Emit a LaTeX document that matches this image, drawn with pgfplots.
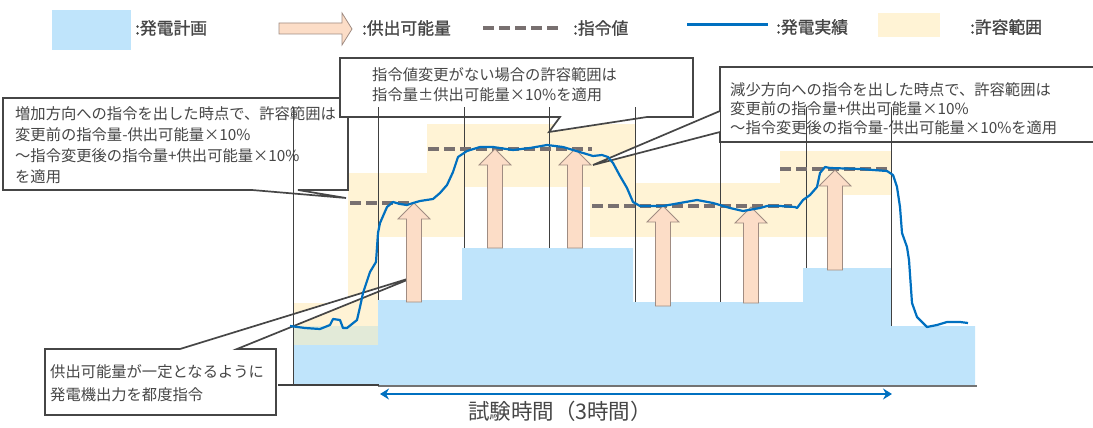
\documentclass[border=0pt]{standalone}
\usepackage{fontspec}
\setmainfont{Noto Sans CJK JP}
\newfontfamily\lgfont[FakeBold=1.2]{Noto Sans CJK JP}
\usepackage{pgfplots}
\pgfplotsset{compat=1.18}
\usetikzlibrary{arrows.meta}
\definecolor{plan}{RGB}{191,228,251}
\definecolor{band}{RGB}{255,243,213}
\definecolor{bandgreen}{RGB}{226,234,216}
\definecolor{peach}{RGB}{252,221,199}
\definecolor{peachedge}{RGB}{160,140,130}
\definecolor{cmd}{RGB}{120,112,112}
\definecolor{act}{RGB}{0,112,192}
\definecolor{txt}{RGB}{70,70,70}
\definecolor{boxedge}{RGB}{70,70,70}
\begin{document}
\begin{tikzpicture}[
  t/.style={anchor=west, inner sep=0pt, text=txt, font=\fontsize{15.3}{18}\selectfont},
  lg/.style={anchor=west, inner sep=0pt, text=txt, font=\lgfont\fontsize{16.8}{20}\selectfont},
  callout/.style={fill=white, draw=boxedge, line width=1.7pt, line join=miter},
  arr/.style={fill=peach, draw=peachedge, line width=0.8pt},
  bnd/.style={fill=band, draw=none},
  cmdl/.style={cmd, line width=3.5pt, dash pattern=on 11pt off 5pt},
  vl/.style={black!75, line width=0.5pt}
]
\begin{axis}[
  scale only axis, width=1093pt, height=428pt,
  xmin=0, xmax=1093, ymin=0, ymax=428, y dir=reverse,
  axis lines=none, clip=false
]
% ---- legend ----
\addplot[fill=plan, draw=none] coordinates {(52,10)(131,10)(131,50)(52,50)};
\addplot[arr] coordinates {(279,23)(342,23)(342,13)(352,29)(342,45)(342,34)(279,34)} -- cycle;
\addplot[cmdl] coordinates {(483,28)(562,28)};
\addplot[act, line width=3pt] coordinates {(687,25)(768,25)};
\addplot[fill=band, draw=none] coordinates {(878,13)(940,13)(940,37)(878,37)};
\node[lg] at (axis cs:135,28) {:発電計画};
\node[lg] at (axis cs:362,28) {:供出可能量};
\node[lg] at (axis cs:573,28) {:指令値};
\node[lg] at (axis cs:776,27) {:発電実績};
\node[lg] at (axis cs:970,27) {:許容範囲};

% ---- tolerance bands ----
\addplot[bnd] coordinates {(293,303)(378,303)(378,345)(293,345)};
\addplot[bnd] coordinates {(348,173)(378,173)(378,345)(348,345)};
\addplot[bnd] coordinates {(348,173)(465,173)(465,237)(348,237)};
\addplot[bnd] coordinates {(427,124)(590,124)(590,187)(427,187)};
\addplot[bnd] coordinates {(590,124)(635,124)(635,237)(590,237)};
\addplot[bnd] coordinates {(590,183)(780,183)(780,237)(590,237)};
\addplot[bnd] coordinates {(780,151)(832,151)(832,237)(780,237)};
\addplot[bnd] coordinates {(780,151)(892,151)(892,195)(780,195)};

% ---- generation plan ----
\addplot[fill=plan, draw=none] coordinates {
  (293,385)(293,345)(378,345)(378,300)(462,300)(462,248)(633,248)(633,302)
  (803,302)(803,268)(891,268)(891,326)(975,326)(975,385)};
\addplot[fill=bandgreen, draw=none] coordinates {(293,326)(378,326)(378,345)(293,345)};

% ---- base line ----
\addplot[black!55, line width=1.2pt] coordinates {(378,386)(977,386)};
\addplot[black!75, line width=2pt] coordinates {(278,385)(379,385)};

% ---- callouts ----
\addplot[callout] coordinates {(3,98)(348,98)(348,190)(298,190)(346,198)(252,190)(3,190)} -- cycle;
\addplot[callout] coordinates {(340,58)(693,58)(693,117)(647,117)(549,132)(560,117)(340,117)} -- cycle;
\addplot[callout] coordinates {(720,67)(1100,67)(1100,142)(720,142)(720,132)(593,165)(720,111)} -- cycle;
\addplot[callout] coordinates {(45,349)(180,349)(417,276)(237,349)(276,349)(276,415)(45,415)} -- cycle;

% ---- vertical time lines ----
\addplot[vl] coordinates {(293,107)(293,385)};
\addplot[vl] coordinates {(378,107)(378,300)};
\addplot[vl] coordinates {(464,107)(464,248)};
\addplot[vl] coordinates {(549,107)(549,248)};
\addplot[vl] coordinates {(635,107)(635,302)};
\addplot[vl] coordinates {(720,107)(720,302)};
\addplot[vl] coordinates {(806,107)(806,268)};
\addplot[vl] coordinates {(891,107)(891,326)};

% ---- command values ----
\addplot[cmdl] coordinates {(350,203)(412,203)};
\addplot[cmdl] coordinates {(428,149)(592,149)};
\addplot[cmdl] coordinates {(592,206)(792,206)};
\addplot[cmdl] coordinates {(780,169)(890,169)};

% ---- supply capacity arrows ----
\addplot[arr] coordinates {(406.5,302)(421.5,302)(421.5,219)(430,219)(414,203)(398,219)(406.5,219)} -- cycle;
\addplot[arr] coordinates {(487.5,248)(502.5,248)(502.5,165)(511,165)(495,149)(479,165)(487.5,165)} -- cycle;
\addplot[arr] coordinates {(567.5,248)(582.5,248)(582.5,165)(591,165)(575,149)(559,165)(567.5,165)} -- cycle;
\addplot[arr] coordinates {(655.5,306)(670.5,306)(670.5,222)(679,222)(663,206)(647,222)(655.5,222)} -- cycle;
\addplot[arr] coordinates {(743.5,303)(758.5,303)(758.5,223)(767,223)(751,207)(735,223)(743.5,223)} -- cycle;
\addplot[arr] coordinates {(827.5,270)(842.5,270)(842.5,186)(851,186)(835,170)(819,186)(827.5,186)} -- cycle;

% ---- actual generation ----
\addplot[act, line width=2.2pt, line join=round] coordinates {
  (290,326)(305,328)(320,329)(330,325)(333,319)(340,320)(343,328)(347,328)
  (357,320)(360,307)(363,293)(370,272)(376,262)(378,233)(380,223)(387,207)
  (393,202)(400,204)(407,205)(413,203)(420,201)(433,199)(440,193)(447,185)
  (453,172)(458,157)(467,151)(480,147)(493,147)(513,150)(530,148)(547,145)
  (563,147)(573,150)(583,153)(593,156)(602,155)(608,157)(613,163)(620,176)
  (627,188)(633,202)(640,206)(663,206)(680,203)(697,200)(713,203)(730,208)
  (743,211)(760,208)(767,206)(780,206)(795,207)(797,208)(803,200)(810,195)
  (817,187)(820,173)(825,167)(830,168)(860,169)(887,171)(893,175)(897,187)
  (900,207)(902,233)(907,247)(909,260)(912,303)(917,317)(927,327)(937,325)
  (947,322)(960,322)(968,323)};

% ---- test period arrow ----
\draw[act, line width=2.5pt, {Stealth[length=9pt,width=11pt,inset=3pt]}-{Stealth[length=9pt,width=11pt,inset=3pt]}] (axis cs:380,394) -- (axis cs:892,394);
\node[inner sep=0pt, text=txt, font=\fontsize{21.5}{24}\selectfont] at (axis cs:560,411) {試験時間（3時間）};

% ---- callout texts ----
\node[t] at (axis cs:15,114) {増加方向への指令を出した時点で、許容範囲は};
\node[t] at (axis cs:15,135) {変更前の指令量-供出可能量×10\%};
\node[t] at (axis cs:15,156) {～指令変更後の指令量+供出可能量×10\%};
\node[t] at (axis cs:15,177) {を適用};
\node[t] at (axis cs:372,75) {指令値変更がない場合の許容範囲は};
\node[t] at (axis cs:372,95) {指令量±供出可能量×10\%を適用};
\node[t] at (axis cs:730,90) {減少方向への指令を出した時点で、許容範囲は};
\node[t] at (axis cs:730,109) {変更前の指令量+供出可能量×10\%};
\node[t] at (axis cs:730,128) {～指令変更後の指令量-供出可能量×10\%を適用};
\node[t] at (axis cs:50,372) {供出可能量が一定となるように};
\node[t] at (axis cs:50,395) {発電機出力を都度指令};
\end{axis}
\pgfresetboundingbox
\path (current axis.south west) rectangle (current axis.north east);
\end{tikzpicture}
\end{document}
